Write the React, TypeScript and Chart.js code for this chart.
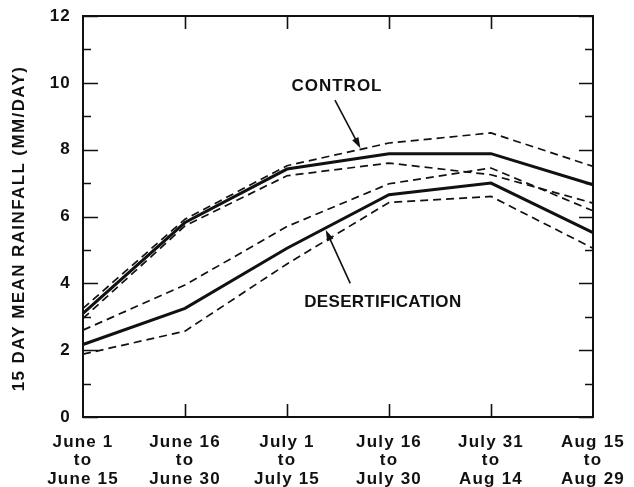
import { useEffect, useRef } from 'react';
import { Chart, registerables } from 'chart.js';
Chart.register(...registerables);

const periods: string[][] = [
  ['June 1', 'to', 'June 15'],
  ['June 16', 'to', 'June 30'],
  ['July 1', 'to', 'July 15'],
  ['July 16', 'to', 'July 30'],
  ['July 31', 'to', 'Aug 14'],
  ['Aug 15', 'to', 'Aug 29'],
];
const controlMean = [3.1, 5.82, 7.42, 7.88, 7.88, 6.95];
const controlUpper = [3.25, 5.92, 7.52, 8.2, 8.5, 7.5];
const controlLower = [2.95, 5.72, 7.22, 7.6, 7.25, 6.4];
const desertMean = [2.17, 3.25, 5.05, 6.65, 7.0, 5.52];
const desertUpper = [2.6, 3.95, 5.7, 6.98, 7.45, 6.17];
const desertLower = [1.88, 2.57, 4.58, 6.42, 6.6, 5.05];
const yMin = 0;
const yMax = 12;
const yStep = 2;
const yTitle = '15 DAY MEAN RAINFALL (MM/DAY)';
const controlLabel = 'CONTROL';
const desertLabel = 'DESERTIFICATION';

// annotation anchors in data coordinates (category index, value)
const controlTextAt = { x: 2.49, y: 9.9 };
const controlTailAt = { x: 2.47, y: 9.48 };
const controlTipX = 2.72;
const desertTextAt = { x: 2.94, y: 3.44 };
const desertTailAt = { x: 2.62, y: 4.0 };
const desertTipX = 2.38;

const FONT = "'Liberation Sans', Arial, Helvetica, sans-serif";
const INK = '#111';

function valueAt(arr: number[], xi: number) {
  const i = Math.floor(xi);
  const f = xi - i;
  if (i >= arr.length - 1) return arr[arr.length - 1];
  return arr[i] + (arr[i + 1] - arr[i]) * f;
}

function drawArrow(ctx: CanvasRenderingContext2D, x1: number, y1: number, x2: number, y2: number) {
  const ang = Math.atan2(y2 - y1, x2 - x1);
  const len = 11;
  const half = 3.5;
  ctx.beginPath();
  ctx.moveTo(x1, y1);
  ctx.lineTo(x2 - Math.cos(ang) * len * 0.7, y2 - Math.sin(ang) * len * 0.7);
  ctx.lineWidth = 1.6;
  ctx.strokeStyle = INK;
  ctx.setLineDash([]);
  ctx.stroke();
  ctx.beginPath();
  ctx.moveTo(x2, y2);
  const bx = x2 - Math.cos(ang) * len;
  const by = y2 - Math.sin(ang) * len;
  ctx.lineTo(bx + Math.sin(ang) * half, by - Math.cos(ang) * half);
  ctx.lineTo(bx - Math.sin(ang) * half, by + Math.cos(ang) * half);
  ctx.closePath();
  ctx.fillStyle = INK;
  ctx.fill();
}

const framePlugin = {
  id: 'framePlugin',
  beforeDraw(chart: any) {
    const ctx = chart.ctx as CanvasRenderingContext2D;
    ctx.save();
    ctx.fillStyle = '#fff';
    ctx.fillRect(0, 0, chart.width, chart.height);
    ctx.restore();
    (ctx as any).letterSpacing = '1.2px';
  },
  afterDraw(chart: any) {
    const ctx = chart.ctx as CanvasRenderingContext2D;
    const { left, right, top, bottom } = chart.chartArea;
    const xs = chart.scales.x;
    const ys = chart.scales.y;
    ctx.save();
    ctx.strokeStyle = INK;
    ctx.setLineDash([]);
    ctx.lineWidth = 2;
    ctx.strokeRect(left, top, right - left, bottom - top);
    // y ticks (major + minor), inward on both sides
    ctx.lineWidth = 1.6;
    for (let v = yMin; v <= yMax; v += yStep / 2) {
      const py = Math.round(ys.getPixelForValue(v)) + 0.5;
      const major = Math.abs(v % yStep) < 1e-9;
      ctx.beginPath();
      ctx.moveTo(left, py);
      ctx.lineTo(left + (major ? 15 : 8), py);
      ctx.moveTo(right, py);
      ctx.lineTo(right - (major ? 14 : 8), py);
      ctx.stroke();
    }
    // x ticks top and bottom
    for (let i = 1; i < periods.length - 1; i++) {
      const px = Math.round(xs.getPixelForValue(i)) + 0.5;
      ctx.beginPath();
      ctx.moveTo(px, top);
      ctx.lineTo(px, top + 13);
      ctx.moveTo(px, bottom);
      ctx.lineTo(px, bottom - 13);
      ctx.stroke();
    }
    // y title
    ctx.fillStyle = INK;
    ctx.font = `bold 17px ${FONT}`;
    (ctx as any).letterSpacing = '1.4px';
    ctx.textAlign = 'center';
    ctx.textBaseline = 'middle';
    ctx.save();
    ctx.translate(19, (top + bottom) / 2 + 12);
    ctx.rotate(-Math.PI / 2);
    ctx.fillText(yTitle, 0, 0);
    ctx.restore();
    // annotations
    (ctx as any).letterSpacing = '1px';
    ctx.fillText(controlLabel, xs.getPixelForValue(controlTextAt.x), ys.getPixelForValue(controlTextAt.y));
    (ctx as any).letterSpacing = '0.3px';
    ctx.fillText(desertLabel, xs.getPixelForValue(desertTextAt.x), ys.getPixelForValue(desertTextAt.y));
    drawArrow(
      ctx,
      xs.getPixelForValue(controlTailAt.x),
      ys.getPixelForValue(controlTailAt.y),
      xs.getPixelForValue(controlTipX),
      ys.getPixelForValue(valueAt(controlUpper, controlTipX)) - 1,
    );
    drawArrow(
      ctx,
      xs.getPixelForValue(desertTailAt.x),
      ys.getPixelForValue(desertTailAt.y),
      xs.getPixelForValue(desertTipX),
      ys.getPixelForValue(valueAt(desertMean, desertTipX)) + 2,
    );
    ctx.restore();
  },
};

export default function App() {
  const ref = useRef<HTMLCanvasElement | null>(null);
  useEffect(() => {
    if (!ref.current) return;
    const dashed = (data: number[]) => ({
      data,
      borderColor: INK,
      borderWidth: 1.7,
      borderDash: [8, 5],
      pointRadius: 0,
      tension: 0,
      fill: false,
    });
    const solid = (data: number[]) => ({
      data,
      borderColor: INK,
      borderWidth: 3,
      pointRadius: 0,
      tension: 0,
      fill: false,
    });
    const chart = new Chart(ref.current, {
      type: 'line',
      data: {
        labels: periods,
        datasets: [
          { label: 'Control upper', ...dashed(controlUpper) },
          { label: 'Control lower', ...dashed(controlLower) },
          { label: 'Desertification upper', ...dashed(desertUpper) },
          { label: 'Desertification lower', ...dashed(desertLower) },
          { label: 'Control', ...solid(controlMean) },
          { label: 'Desertification', ...solid(desertMean) },
        ],
      },
      options: {
        animation: false,
        responsive: false,
        layout: { padding: { left: 0, right: 41, top: 16, bottom: 0 } },
        plugins: { legend: { display: false }, tooltip: { enabled: false } },
        scales: {
          x: {
            type: 'category',
            offset: false,
            grid: { display: false, drawTicks: false },
            border: { display: false },
            ticks: {
              color: INK,
              font: { family: FONT, size: 17, weight: 'bold', lineHeight: 1.09 },
              padding: 16,
              maxRotation: 0,
              autoSkip: false,
            },
            afterFit: (s: any) => {
              s.height = 70;
              s.paddingLeft = 0;
              s.paddingRight = 0;
            },
          },
          y: {
            min: yMin,
            max: yMax,
            grid: { display: false, drawTicks: false },
            border: { display: false },
            ticks: {
              stepSize: yStep,
              color: INK,
              font: { family: FONT, size: 17, weight: 'bold' },
              padding: 12,
            },
            afterFit: (s: any) => {
              s.width = 83;
              s.paddingTop = 0;
              s.paddingBottom = 0;
            },
          },
        },
      },
      plugins: [framePlugin],
    } as any);
    return () => chart.destroy();
  }, []);
  return (
    <div style={{ position: 'fixed', left: 0, top: 0, width: 634, height: 487, background: '#fff' }}>
      <canvas ref={ref} width={634} height={487} />
    </div>
  );
}
